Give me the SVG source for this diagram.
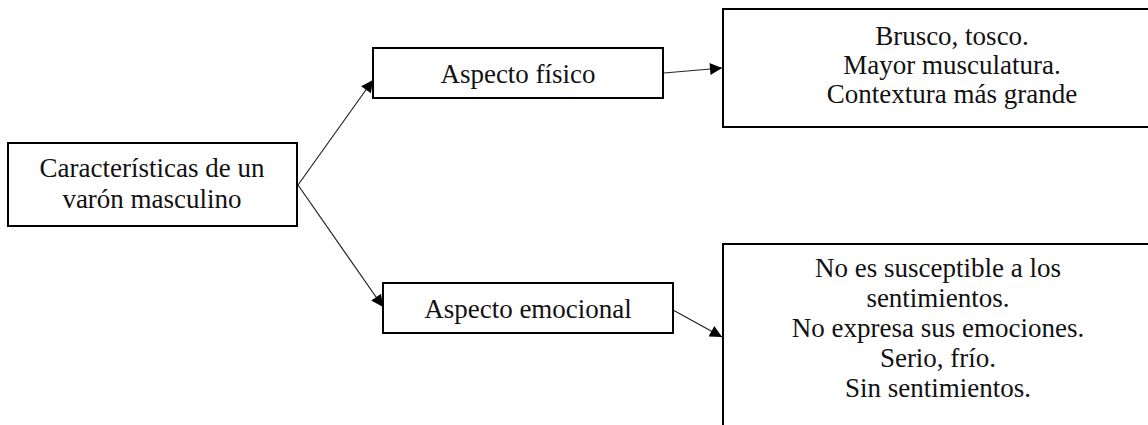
<svg xmlns="http://www.w3.org/2000/svg" width="1148" height="425" viewBox="0 0 1148 425">
<defs>
<style>
.box{fill:#fff;stroke:#000;stroke-width:2}
.t{font-family:'Liberation Serif','Times New Roman',serif;font-size:27px;fill:#111;text-anchor:middle}
.c{stroke:#222;stroke-width:1.2;fill:none}
</style>
<marker id="ah" viewBox="0 0 10 10" refX="10" refY="5" markerWidth="14" markerHeight="12" markerUnits="userSpaceOnUse" orient="auto">
<path d="M0,0 L10,5 L0,10 z" fill="#000"/>
</marker>
</defs>
<rect width="1148" height="425" fill="#fff"/>
<g id="connectors">
<line class="c" x1="298" y1="185" x2="373" y2="80" marker-end="url(#ah)"/>
<line class="c" x1="298" y1="185" x2="383" y2="307" marker-end="url(#ah)"/>
<line class="c" x1="664" y1="73" x2="722" y2="68" marker-end="url(#ah)"/>
<line class="c" x1="673" y1="310" x2="722" y2="337" marker-end="url(#ah)"/>
</g>
<g id="root">
<rect class="box" x="8" y="143" width="289" height="83"/>
<text class="t" x="152" y="177">Características de un</text>
<text class="t" x="152" y="208">varón masculino</text>
</g>
<g id="fisico">
<rect class="box" x="373" y="48" width="290" height="50"/>
<text class="t" x="518" y="83">Aspecto físico</text>
</g>
<g id="emocional">
<rect class="box" x="383" y="283" width="290" height="50"/>
<text class="t" x="528" y="318">Aspecto emocional</text>
</g>
<g id="fisico-detalle">
<rect class="box" x="723" y="9" width="500" height="118"/>
<text class="t" x="952" y="45">Brusco, tosco.</text>
<text class="t" x="952" y="74">Mayor musculatura.</text>
<text class="t" x="952" y="103">Contextura más grande</text>
</g>
<g id="emocional-detalle">
<rect class="box" x="723" y="244" width="440" height="200"/>
<text class="t" x="938" y="277">No es susceptible a los</text>
<text class="t" x="938" y="307">sentimientos.</text>
<text class="t" x="938" y="337">No expresa sus emociones.</text>
<text class="t" x="938" y="367">Serio, frío.</text>
<text class="t" x="938" y="397">Sin sentimientos.</text>
</g>
</svg>
